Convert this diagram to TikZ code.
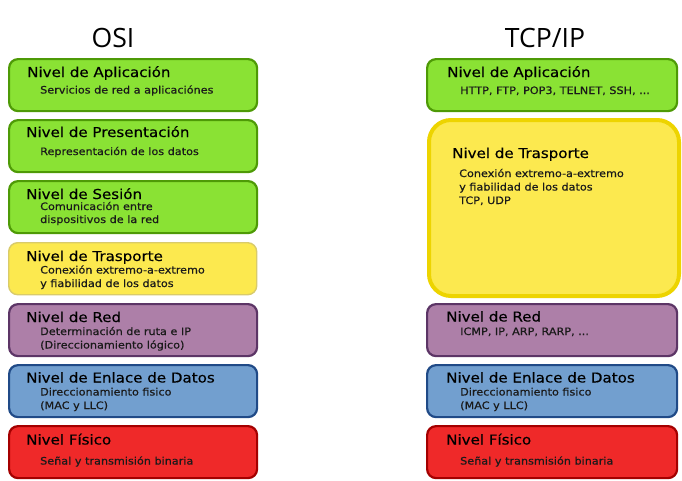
\documentclass[tikz,border=0pt]{standalone}
\usepackage{fontspec}
\setmainfont{DejaVu Sans}
\newfontfamily\headfont{Open Sans}
\newfontfamily\ttlfont[FakeStretch=1.1,FakeBold=0.3]{DejaVu Sans}
\newfontfamily\subfont[FakeStretch=1.1,FakeBold=0.6]{DejaVu Sans}
\definecolor{gfill}{HTML}{8AE234}
\definecolor{gline}{HTML}{4E9A06}
\definecolor{yfill}{HTML}{FCE94F}
\definecolor{yline}{HTML}{EDD400}
\definecolor{ylineb}{HTML}{D9CB6A}
\definecolor{pfill}{HTML}{AD7FA8}
\definecolor{pline}{HTML}{5C3566}
\definecolor{bfill}{HTML}{729FCF}
\definecolor{bline}{HTML}{204A87}
\definecolor{rfill}{HTML}{EF2929}
\definecolor{rline}{HTML}{A40000}
\definecolor{subc}{HTML}{1A1A1A}
\begin{document}
\begin{tikzpicture}[x=1pt,y=-1pt,
  layer/.style={rounded corners=9pt, line width=2.2pt, anchor=north west, inner sep=0pt, minimum height=52pt},
  lbox/.style={layer, minimum width=248pt},
  rbox/.style={layer, minimum width=250pt},
  green/.style={fill=gfill, draw=gline},
  yellow/.style={fill=yfill, draw=ylineb, line width=1.4pt},
  purple/.style={fill=pfill, draw=pline},
  blue/.style={fill=bfill, draw=bline},
  red/.style={fill=rfill, draw=rline},
  head/.style={font=\headfont\fontsize{26.6}{30}\selectfont, anchor=base, inner sep=0pt},
  ttl/.style={font=\ttlfont\fontsize{13.7}{16}\selectfont, anchor=base west, inner sep=0pt},
  sub/.style={font=\subfont\fontsize{10.2}{13}\selectfont, text=subc, anchor=base west, inner sep=0pt, align=left}
]
\useasboundingbox (0,0) rectangle (682,480);
\fill[white] (0,0) rectangle (682,480);

\node[head] (osi) at (113,47) {OSI};
\node[head] (tcp) at (545,47) {TCP/IP};

% OSI column
\node[lbox, green]  (o1) at (8,58)  {};
\node[lbox, green]  (o2) at (8,119) {};
\node[lbox, green]  (o3) at (8,180) {};
\node[lbox, yellow] (o4) at (8,242) {};
\node[lbox, purple] (o5) at (8,303) {};
\node[lbox, blue]   (o6) at (8,364) {};
\node[lbox, red]    (o7) at (8,425) {};

\node[ttl] (o1t) at (27,77) {Nivel de Aplicación};
\node[sub] (o1s) at (40,93.5) {Servicios de red a aplicaciónes};
\node[ttl] (o2t) at (26,137) {Nivel de Presentación};
\node[sub] (o2s) at (40,155) {Representación de los datos};
\node[ttl] (o3t) at (26,199) {Nivel de Sesión};
\node[sub] (o3s) at (40,210) {Comunicación entre};
\node[sub] (o3u) at (40,223) {dispositivos de la red};
\node[ttl] (o4t) at (26,261) {Nivel de Trasporte};
\node[sub] (o4s) at (40,273.5) {Conexión extremo-a-extremo};
\node[sub] (o4u) at (40,287) {y fiabilidad de los datos};
\node[ttl] (o5t) at (26,322) {Nivel de Red};
\node[sub] (o5s) at (40,335) {Determinación de ruta e IP};
\node[sub] (o5u) at (40,348.5) {(Direccionamiento lógico)};
\node[ttl] (o6t) at (26,382.5) {Nivel de Enlace de Datos};
\node[sub] (o6s) at (40,395.5) {Direccionamiento fisico};
\node[sub] (o6u) at (40,409) {(MAC y LLC)};
\node[ttl] (o7t) at (26,444.5) {Nivel Físico};
\node[sub] (o7s) at (40,464.5) {Señal y transmisión binaria};

% TCP/IP column
\node[rbox, green] (t1) at (426,58) {};
\node[rbox, fill=yfill, draw=yline, line width=4pt, rounded corners=22pt, minimum height=176pt] (t2) at (427,118) {};
\node[rbox, purple] (t3) at (426,303) {};
\node[rbox, blue]   (t4) at (426,364) {};
\node[rbox, red]    (t5) at (426,425) {};

\node[ttl] (t1t) at (447,77) {Nivel de Aplicación};
\node[sub] (t1s) at (460,94) {HTTP, FTP, POP3, TELNET, SSH, ...};
\node[ttl] (t2t) at (452,158) {Nivel de Trasporte};
\node[sub] (t2s) at (459,177) {Conexión extremo-a-extremo};
\node[sub] (t2u) at (459,190.5) {y fiabilidad de los datos};
\node[sub] (t2v) at (459,204) {TCP, UDP};
\node[ttl] (t3t) at (446,321.5) {Nivel de Red};
\node[sub] (t3s) at (460,335) {ICMP, IP, ARP, RARP, ...};
\node[ttl] (t4t) at (446,382.5) {Nivel de Enlace de Datos};
\node[sub] (t4s) at (460,395.5) {Direccionamiento fisico};
\node[sub] (t4u) at (460,409) {(MAC y LLC)};
\node[ttl] (t5t) at (446,444.5) {Nivel Físico};
\node[sub] (t5s) at (460,464.5) {Señal y transmisión binaria};
\end{tikzpicture}
\end{document}
